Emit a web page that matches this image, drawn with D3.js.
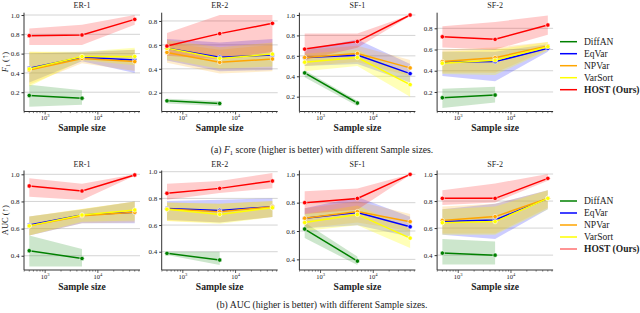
<!DOCTYPE html>
<html lang="en">
<head>
<meta charset="UTF-8">
<title>HOST sample size</title>
<style>
  body { margin: 0; background: #fff; }
  text { font-family: "Liberation Serif", "DejaVu Serif", serif; fill: #222; }
</style>
</head>
<body>
<div class="chart"></div>
<script src="https://d3js.org/d3.v7.min.js"></script>
<script>
var sampleSizes = [500, 5000, 50000]
var datasets = ["ER-1", "ER-2", "SF-1", "SF-2"]
var methods = ["DiffAN", "EqVar", "NPVar", "VarSort", "HOST (Ours)"]
var xTicks = [1000, 10000]

// F1 score, [dataset][method][sample size]  (DiffAN only has the first two sizes)
var f1Mean = [
  [[0.166, 0.138], [0.448, 0.562, 0.534], [0.43, 0.55, 0.517], [0.44, 0.57, 0.57], [0.786, 0.793, 0.955]],
  [[0.132, 0.11], [0.571, 0.496, 0.515], [0.537, 0.454, 0.482], [0.571, 0.487, 0.523], [0.59, 0.694, 0.78]],
  [[0.433, 0.138], [0.584, 0.607, 0.426], [0.584, 0.623, 0.482], [0.538, 0.584, 0.318], [0.666, 0.74, 1.0]],
  [[0.146, 0.171], [0.479, 0.486, 0.611], [0.486, 0.523, 0.633], [0.47, 0.50, 0.627], [0.72, 0.696, 0.831]]
]
var f1Low = [
  [[0.05, 0.07], [0.30, 0.52, 0.40], [0.28, 0.50, 0.42], [0.26, 0.53, 0.48], [0.69, 0.69, 0.90]],
  [[0.11, 0.09], [0.47, 0.38, 0.39], [0.45, 0.36, 0.38], [0.48, 0.40, 0.42], [0.51, 0.48, 0.54]],
  [[0.39, 0.11], [0.50, 0.52, 0.34], [0.50, 0.54, 0.40], [0.45, 0.50, 0.20], [0.56, 0.68, 0.99]],
  [[0.05, 0.10], [0.35, 0.30, 0.58], [0.38, 0.38, 0.60], [0.37, 0.36, 0.59], [0.62, 0.60, 0.74]]
]
var f1High = [
  [[0.276, 0.22], [0.60, 0.62, 0.64], [0.62, 0.61, 0.64], [0.62, 0.62, 0.66], [0.86, 0.90, 1.0]],
  [[0.15, 0.13], [0.65, 0.62, 0.65], [0.62, 0.56, 0.60], [0.64, 0.58, 0.62], [0.70, 0.85, 0.85]],
  [[0.46, 0.16], [0.66, 0.76, 0.52], [0.66, 0.70, 0.56], [0.62, 0.66, 0.42], [0.82, 0.82, 1.0]],
  [[0.23, 0.25], [0.58, 0.58, 0.65], [0.60, 0.62, 0.67], [0.58, 0.60, 0.67], [0.82, 0.86, 0.92]]
]

// AUC, same layout
var aucMean = [
  [[0.437, 0.38], [0.626, 0.70, 0.72], [0.62, 0.695, 0.72], [0.62, 0.70, 0.737], [0.914, 0.877, 0.995]],
  [[0.388, 0.338], [0.725, 0.71, 0.738], [0.72, 0.70, 0.738], [0.718, 0.68, 0.73], [0.838, 0.875, 0.93]],
  [[0.614, 0.388], [0.69, 0.73, 0.63], [0.69, 0.737, 0.666], [0.66, 0.717, 0.55], [0.80, 0.83, 1.0]],
  [[0.415, 0.40], [0.648, 0.66, 0.82], [0.656, 0.685, 0.82], [0.64, 0.648, 0.82], [0.82, 0.82, 0.968]]
]
var aucLow = [
  [[0.32, 0.32], [0.55, 0.64, 0.64], [0.55, 0.64, 0.645], [0.55, 0.65, 0.66], [0.835, 0.81, 0.99]],
  [[0.375, 0.30], [0.64, 0.62, 0.66], [0.63, 0.62, 0.66], [0.63, 0.61, 0.66], [0.79, 0.84, 0.875]],
  [[0.55, 0.36], [0.62, 0.64, 0.56], [0.62, 0.66, 0.60], [0.60, 0.64, 0.48], [0.72, 0.75, 0.995]],
  [[0.33, 0.33], [0.55, 0.52, 0.74], [0.56, 0.56, 0.75], [0.55, 0.55, 0.74], [0.77, 0.79, 0.95]]
]
var aucHigh = [
  [[0.55, 0.45], [0.69, 0.74, 0.80], [0.69, 0.745, 0.80], [0.69, 0.745, 0.80], [0.97, 0.93, 1.0]],
  [[0.40, 0.40], [0.78, 0.79, 0.80], [0.77, 0.76, 0.78], [0.77, 0.76, 0.78], [0.91, 0.93, 0.99]],
  [[0.66, 0.42], [0.76, 0.84, 0.70], [0.76, 0.81, 0.72], [0.72, 0.78, 0.62], [0.88, 0.90, 1.0]],
  [[0.52, 0.50], [0.74, 0.78, 0.88], [0.76, 0.78, 0.88], [0.74, 0.76, 0.88], [0.88, 0.93, 1.0]]
]

var f1Ticks = [[0.2, 0.4, 0.6, 0.8, 1.0], [0.2, 0.4, 0.6, 0.8], [0.2, 0.4, 0.6, 0.8, 1.0], [0.2, 0.4, 0.6, 0.8]]
var aucTicks = [[0.4, 0.6, 0.8, 1.0], [0.4, 0.6, 0.8, 1.0], [0.4, 0.6, 0.8, 1.0], [0.4, 0.6, 0.8, 1.0]]

// axis limits (matplotlib auto-limits)
var f1Limits = [[0.0, 1.024], [0.043, 0.869], [0.055, 1.0225], [0.016, 0.947]]
var aucLimits = [[0.295, 1.028], [0.263, 1.009], [0.325, 1.027], [0.29, 1.026]]

var colors = ["green", "blue", "orange", "#ffff00", "red"]

var W = 640, H = 313
var plotW = 116, gap = 137.7, left0 = 24

var svg = d3.select(".chart").append("svg")
  .attr("width", W).attr("height", H)

var x = d3.scaleLog()
  .domain([Math.pow(10, 2.599), Math.pow(10, 4.799)])
  .range([0, plotW])

var rows = [
  { top: 12.7, bottom: 111.5, mean: f1Mean, low: f1Low, high: f1High, ticks: f1Ticks, limits: f1Limits,
    titleY: 7.5, tickY: 120, labelY: 131, ylabel: "f1", legendY: 41.7, captionY: 153.3,
    hostLegend: "red" },
  { top: 170.5, bottom: 270, mean: aucMean, low: aucLow, high: aucHigh, ticks: aucTicks, limits: aucLimits,
    titleY: 166.5, tickY: 278.8, labelY: 290, ylabel: "auc", legendY: 201, captionY: 308.3,
    hostLegend: "#ff7070" }
]

rows.forEach(function(row) {
  datasets.forEach(function(name, di) {
    var g = svg.append("g")
      .attr("transform", "translate(" + (left0 + di * gap) + ",0)")

    var y = d3.scaleLinear().domain(row.limits[di]).range([row.bottom, row.top])

    // horizontal grid
    g.selectAll(".grid")
      .data(row.ticks[di])
      .enter().append("line")
      .attr("x1", 0).attr("x2", plotW)
      .attr("y1", function(d) { return y(d) }).attr("y2", function(d) { return y(d) })
      .attr("stroke", "#d4d4d4").attr("stroke-width", 1)

    // bands
    methods.forEach(function(m, mi) {
      var pts = row.mean[di][mi].map(function(v, k) {
        return { s: sampleSizes[k], lo: row.low[di][mi][k], hi: row.high[di][mi][k] }
      })
      var area = d3.area()
        .x(function(d) { return x(d.s) })
        .y0(function(d) { return y(d.lo) })
        .y1(function(d) { return y(d.hi) })
      g.append("path")
        .attr("d", area(pts))
        .attr("fill", colors[mi])
        .attr("fill-opacity", mi == 3 ? 0.28 : 0.2)
    })

    // lines + markers
    methods.forEach(function(m, mi) {
      var pts = row.mean[di][mi].map(function(v, k) { return { s: sampleSizes[k], v: v } })
      var line = d3.line()
        .x(function(d) { return x(d.s) })
        .y(function(d) { return y(d.v) })
      g.append("path")
        .attr("d", line(pts))
        .attr("fill", "none")
        .attr("stroke", colors[mi])
        .attr("stroke-width", 1.5)
      g.selectAll(".pt" + mi)
        .data(pts)
        .enter().append("circle")
        .attr("cx", function(d) { return x(d.s) })
        .attr("cy", function(d) { return y(d.v) })
        .attr("r", 2.2)
        .attr("fill", colors[mi])
        .attr("stroke", "#fff")
        .attr("stroke-width", 0.6)
    })

    // y axis
    var yAxis = d3.axisLeft(y).tickValues(row.ticks[di]).tickSize(2.5).tickPadding(2)
      .tickFormat(d3.format(".1f"))
    var ya = g.append("g").call(yAxis)
    ya.select(".domain").attr("stroke", "#333").attr("stroke-width", 1)
      .attr("d", "M0," + row.top + "V" + row.bottom)
    ya.selectAll(".tick line").attr("stroke", "#333")
    ya.selectAll(".tick text")
      .style("font-family", "'Liberation Serif', serif").style("font-size", "7px").attr("fill", "#222")

    // x axis with log minor ticks
    var xa = g.append("g").attr("transform", "translate(0," + row.bottom + ")")
    xa.append("line").attr("x1", 0).attr("x2", plotW).attr("stroke", "#333").attr("stroke-width", 1)
    var minor = []
    ;[100, 1000, 10000].forEach(function(base) {
      for (var k = 2; k <= 9; k++) {
        var v = base * k
        if (v > x.domain()[0] && v < x.domain()[1]) minor.push(v)
      }
    })
    xa.selectAll(".minor").data(minor).enter().append("line")
      .attr("x1", function(d) { return x(d) }).attr("x2", function(d) { return x(d) })
      .attr("y1", 0).attr("y2", 1.6).attr("stroke", "#333").attr("stroke-width", 0.6)
    xa.selectAll(".major").data(xTicks).enter().append("line")
      .attr("x1", function(d) { return x(d) }).attr("x2", function(d) { return x(d) })
      .attr("y1", 0).attr("y2", 3).attr("stroke", "#333").attr("stroke-width", 0.8)
    var tl = g.selectAll(".xt").data(xTicks).enter().append("text")
      .attr("x", function(d) { return x(d) })
      .attr("y", row.tickY)
      .attr("text-anchor", "middle")
      .style("font-size", "6.5px")
    tl.append("tspan").text("10")
    tl.append("tspan").attr("dy", -2.6).style("font-size", "4.6px")
      .text(function(d) { return Math.round(Math.log10(d)) })

    // title + x label
    g.append("text").attr("x", plotW / 2).attr("y", row.titleY)
      .attr("text-anchor", "middle").style("font-size", "8px").text(name)
    g.append("text").attr("x", plotW / 2).attr("y", row.labelY)
      .attr("text-anchor", "middle").style("font-size", "9.6px").style("font-weight", "bold")
      .attr("fill", "#333").text("Sample size")
  })

  // y label (first panel only)
  var cy = (row.top + row.bottom) / 2
  var yl = svg.append("text")
    .attr("transform", "translate(8," + cy + ") rotate(-90)")
    .attr("text-anchor", "middle")
    .style("font-size", "8.5px")
  if (row.ylabel == "f1") {
    yl.append("tspan").style("font-style", "italic").text("F")
    yl.append("tspan").attr("dy", 1.8).style("font-size", "6px").text("1")
    yl.append("tspan").attr("dy", -1.8).text(" (\u2191)")
  } else {
    yl.append("tspan").text("AUC (\u2191)")
  }

  // legend
  methods.forEach(function(m, mi) {
    var ly = row.legendY + mi * 12
    svg.append("line")
      .attr("x1", 560).attr("x2", 577).attr("y1", ly).attr("y2", ly)
      .attr("stroke", mi == 4 ? row.hostLegend : colors[mi]).attr("stroke-width", 1.5)
    svg.append("text")
      .attr("x", 584).attr("y", ly + 3.2)
      .style("font-size", "9.5px")
      .style("font-weight", mi == 4 ? "bold" : "normal")
      .attr("fill", "#333")
      .text(m)
  })

  // caption
  var cap = svg.append("text").attr("x", 322).attr("y", row.captionY)
    .attr("text-anchor", "middle").style("font-size", "9.7px").attr("fill", "#111")
  if (row.ylabel == "f1") {
    cap.append("tspan").text("(a) ")
    cap.append("tspan").style("font-style", "italic").text("F")
    cap.append("tspan").attr("dy", 2).style("font-size", "6.5px").text("1")
    cap.append("tspan").attr("dy", -2).text(" score (higher is better) with different Sample sizes.")
  } else {
    cap.append("tspan").text("(b) AUC (higher is better) with different Sample sizes.")
  }
})
</script>
</body>
</html>
